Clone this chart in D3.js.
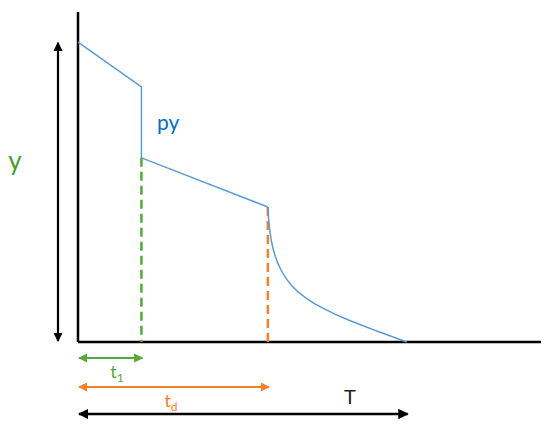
<!DOCTYPE html>
<html>
<head>
<meta charset="utf-8">
<script src="https://cdn.jsdelivr.net/npm/d3@7"></script>
<style>
  body { margin: 0; background: #fff; }
  svg { display: block; font-family: Lato, "Open Sans", sans-serif; }
</style>
</head>
<body>
<svg id="chart" width="550" height="427"></svg>
<script>
// time marks (0..100 along the horizontal axis)
const t1 = 13.7;
const td = 41;
const T = 71;

// the py profile: straight part, then the drop after td
const stepX = [0, 13.7, 13.7, 41];
const stepY = [90.9, 77.3, 55.8, 40.9];
const tailX = [41, 41.3, 42.2, 43.8, 46.0, 49.0, 53.0, 58.0, 64.0, 71];
const tailY = [40.9, 34.0, 27.0, 21.5, 17.0, 13.3, 10.0, 6.8, 3.6, 0];

const x = d3.scaleLinear().domain([0, 100]).range([78, 541]);
const y = d3.scaleLinear().domain([0, 100]).range([342, 12]);

const svg = d3.select(`#chart`);

const colors = {
    blue: `#5b9bd5`,
    blueText: `#0070c0`,
    green: `#56a83a`,
    orange: `#f8802a`,
    black: `#000`
};

// arrow heads
const defs = svg.append(`defs`);
Object.entries(colors).forEach(([name, c]) => {
    defs.append(`marker`)
        .attr(`id`, `arrow-${name}`)
        .attr(`viewBox`, `0 0 10 10`)
        .attr(`refX`, 9)
        .attr(`refY`, 5)
        .attr(`markerWidth`, 4.2)
        .attr(`markerHeight`, 4.2)
        .attr(`orient`, `auto-start-reverse`)
        .attr(`markerUnits`, `strokeWidth`)
        .append(`path`)
        .attr(`d`, `M0,0 L10,5 L0,10 Z`)
        .attr(`fill`, c);
});

// axes (plain lines, no ticks)
svg.append(`line`)
    .attr(`x1`, x(0)).attr(`x2`, x(0))
    .attr(`y1`, y(0)).attr(`y2`, y(100))
    .attr(`stroke`, `#000`).attr(`stroke-width`, 2.5);
svg.append(`line`)
    .attr(`x1`, x(0)).attr(`x2`, x(100))
    .attr(`y1`, y(0)).attr(`y2`, y(0))
    .attr(`stroke`, `#000`).attr(`stroke-width`, 2.5);

// y double arrow
svg.append(`line`)
    .attr(`x1`, 58).attr(`x2`, 58)
    .attr(`y1`, y(0) - 1).attr(`y2`, y(91) + 1)
    .attr(`stroke`, `#000`).attr(`stroke-width`, 2.2)
    .attr(`marker-start`, `url(#arrow-black)`)
    .attr(`marker-end`, `url(#arrow-black)`);

svg.append(`text`)
    .attr(`x`, 15).attr(`y`, 170)
    .attr(`text-anchor`, `middle`)
    .attr(`font-size`, 26)
    .attr(`fill`, `#4e9a2f`)
    .text(`y`);

// dashed markers at t1 and td
svg.append(`line`)
    .attr(`x1`, x(t1)).attr(`x2`, x(t1))
    .attr(`y1`, y(stepY[2])).attr(`y2`, y(0))
    .attr(`stroke`, colors.green).attr(`stroke-width`, 2.5)
    .attr(`stroke-dasharray`, `9,5`);
svg.append(`line`)
    .attr(`x1`, x(td)).attr(`x2`, x(td))
    .attr(`y1`, y(stepY[3])).attr(`y2`, y(0))
    .attr(`stroke`, colors.orange).attr(`stroke-width`, 2.5)
    .attr(`stroke-dasharray`, `9,5`);

// py profile
const line = d3.line().x(d => x(d[0])).y(d => y(d[1]));
svg.append(`path`)
    .datum(stepX.map((v, i) => [v, stepY[i]]))
    .attr(`d`, line)
    .attr(`fill`, `none`)
    .attr(`stroke`, colors.blue)
    .attr(`stroke-width`, 1.5);
svg.append(`path`)
    .datum(tailX.map((v, i) => [v, tailY[i]]))
    .attr(`d`, line.curve(d3.curveBasis))
    .attr(`fill`, `none`)
    .attr(`stroke`, colors.blue)
    .attr(`stroke-width`, 1.5);

svg.append(`text`)
    .attr(`x`, 157).attr(`y`, 130)
    .attr(`font-size`, 21)
    .attr(`fill`, colors.blueText)
    .text(`py`);

// span arrows under the axis
const spans = [
    { end: t1, yPos: 358, c: `green`, label: `t`, sub: `1`, lx: 117, ly: 378 },
    { end: td, yPos: 387, c: `orange`, label: `t`, sub: `d`, lx: 171, ly: 407 },
    { end: T, yPos: 414, c: `black`, label: `T`, sub: null, lx: 350, ly: 404 }
];

spans.forEach(s => {
    svg.append(`line`)
        .attr(`x1`, x(0) + 1).attr(`x2`, x(s.end) + 1)
        .attr(`y1`, s.yPos).attr(`y2`, s.yPos)
        .attr(`stroke`, colors[s.c])
        .attr(`stroke-width`, s.c === `black` ? 2.5 : 2.2)
        .attr(`marker-start`, `url(#arrow-${s.c})`)
        .attr(`marker-end`, `url(#arrow-${s.c})`);
    const txt = svg.append(`text`)
        .attr(`x`, s.lx).attr(`y`, s.ly)
        .attr(`text-anchor`, `middle`)
        .attr(`font-size`, s.sub ? 18 : 20)
        .attr(`fill`, s.c === `black` ? `#222` : colors[s.c])
        .text(s.label);
    if (s.sub) {
        txt.append(`tspan`)
            .attr(`dy`, 4)
            .attr(`font-size`, 12)
            .text(s.sub);
    }
});
</script>
</body>
</html>
